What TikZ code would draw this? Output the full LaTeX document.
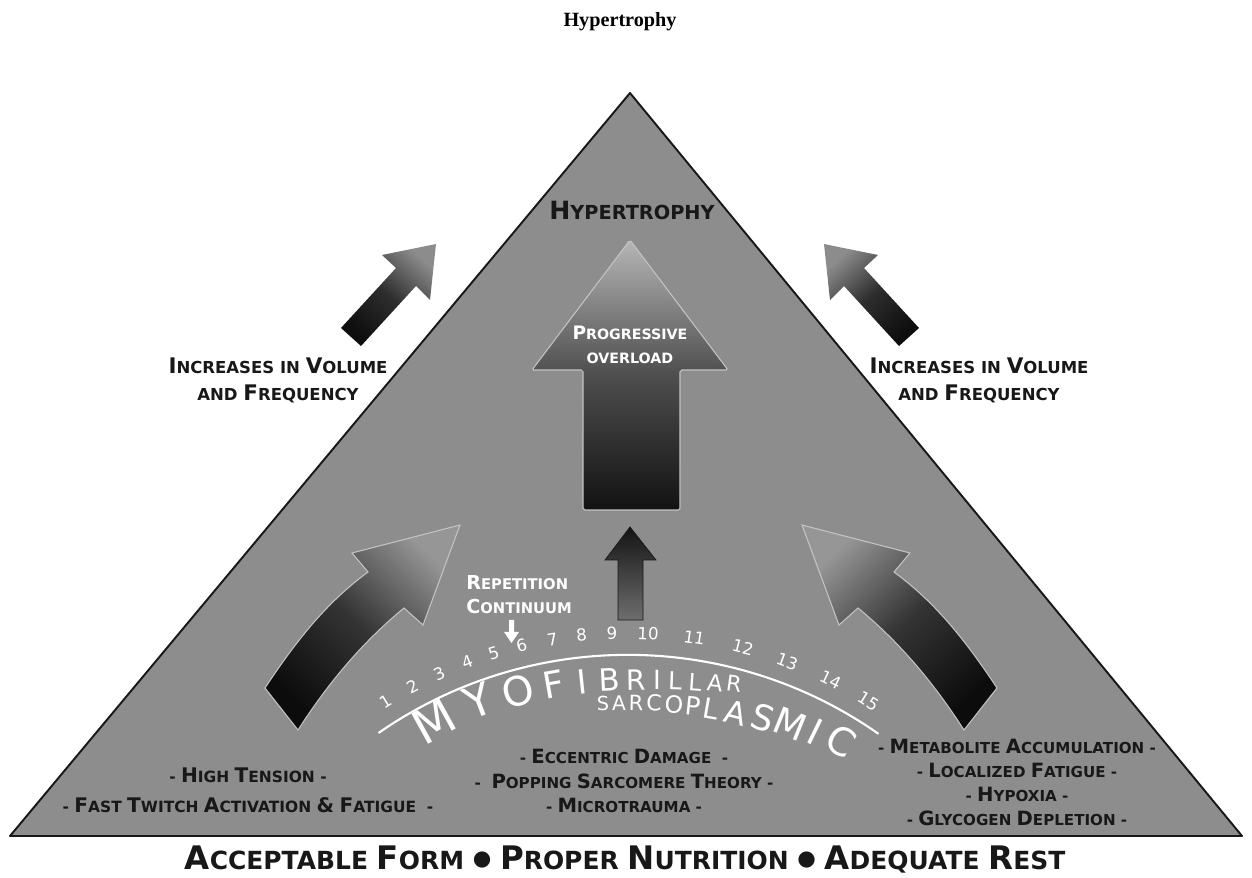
\documentclass[tikz,border=0pt]{standalone}
\usepackage{fontspec}
\usepackage{graphicx}
\setmainfont{DejaVu Sans}
\newfontfamily\titlefont{Liberation Serif}

\definecolor{trigray}{RGB}{141,141,141}
\definecolor{ink}{RGB}{24,24,24}
\definecolor{edgelight}{RGB}{196,196,196}

\newcommand\capl[1]{\scalebox{1.3}{#1}}
\newcommand\fs[2]{\fontsize{#1}{#2}\selectfont}
\newcommand\dotsep{\raisebox{2.2pt}{\scalebox{0.85}{●}}}

\tikzset{
  lab/.style={font=\bfseries\fs{8.6}{13.8}, text=ink, align=center, inner sep=0pt},
  whitelab/.style={lab, text=white},
  repnum/.style={font=\fs{9.5}{10}, text=white, inner sep=0pt},
  arcletter/.style={text=white, inner sep=0pt},
  bevel/.style={draw=edgelight, line width=0.6pt},
}

\begin{document}
\begin{tikzpicture}[x=0.02cm, y=-0.02cm]
            \useasboundingbox (0, 0) rectangle (1252, 878);
            %\draw[lightgray] (0, 0) grid[step=50] (1252, 878);
            \node[font=\titlefont\bfseries\fs{11.5}{14}] (title) at (620, 22) {Hypertrophy};
            % triangle
            \fill[trigray] (630, 93) -- (1242, 836) -- (10, 836) -- cycle;
            \draw[ink, line width=1.1pt, line join=round] (630, 93) -- (1242, 836) -- (10, 836) -- cycle;
            \draw[ink, line width=1.6pt] (10, 836) -- (1242, 836);
            % arrows
            \shade[top color={rgb,255:red,140;green,140;blue,140}, bottom color={rgb,255:red,14;green,14;blue,14}, middle color={rgb,255:red,46;green,46;blue,46}, shading angle=-42]
                (341, 328) -- (396, 268) -- (382, 255) -- (436, 244) -- (430, 300) -- (416, 286) -- (361, 346) -- cycle;
            \shade[top color={rgb,255:red,140;green,140;blue,140}, bottom color={rgb,255:red,14;green,14;blue,14}, middle color={rgb,255:red,46;green,46;blue,46}, shading angle=42]
                (919, 328) -- (864, 268) -- (878, 255) -- (824, 244) -- (830, 300) -- (844, 286) -- (899, 346) -- cycle;
            \shade[bevel, rounded corners=1pt, top color={rgb,255:red,182;green,182;blue,182}, bottom color={rgb,255:red,18;green,18;blue,18}, middle color={rgb,255:red,78;green,78;blue,78}]
                (583, 510) -- (583, 370) -- (532, 370) -- (630, 240) -- (728, 370) -- (680, 370) -- (680, 510) -- cycle;
            \shade[draw=ink, line width=0.4pt, top color={rgb,255:red,20;green,20;blue,20}, bottom color={rgb,255:red,110;green,110;blue,110}]
                (618, 620) -- (618, 560) -- (605, 560) -- (630, 527) -- (656, 560) -- (643, 560) -- (643, 620) -- cycle;
            \shade[bevel, top color={rgb,255:red,150;green,150;blue,150}, bottom color={rgb,255:red,12;green,12;blue,12}, middle color={rgb,255:red,52;green,52;blue,52}, shading angle=-44]
                (265, 688) .. controls (300, 635) and (330, 600) .. (368, 572) -- (352, 553) -- (460, 525) -- (423, 625) -- (404, 608) .. controls (365, 640) and (330, 680) .. (298, 730) -- cycle;
            \shade[bevel, top color={rgb,255:red,150;green,150;blue,150}, bottom color={rgb,255:red,12;green,12;blue,12}, middle color={rgb,255:red,52;green,52;blue,52}, shading angle=44]
                (997, 688) .. controls (962, 635) and (932, 600) .. (894, 572) -- (910, 553) -- (802, 525) -- (839, 625) -- (858, 608) .. controls (897, 640) and (932, 680) .. (964, 730) -- cycle;
            \node[lab, font=\bfseries\fs{11}{14}] (hyper) at (632, 210) {\capl{H}YPERTROPHY};
            \node[whitelab, font=\bfseries\fs{8.1}{13.6}] (prog) at (630, 345) {\capl{P}ROGRESSIVE\\OVERLOAD};
            \node[lab, font=\bfseries\fs{9.4}{15.3}] (incl) at (278, 380) {\capl{I}NCREASES IN \capl{V}OLUME\\AND \capl{F}REQUENCY};
            \node[lab, font=\bfseries\fs{9.4}{15.3}] (incr) at (979, 380) {\capl{I}NCREASES IN \capl{V}OLUME\\AND \capl{F}REQUENCY};
            % repetition continuum
            \node[whitelab, font=\bfseries\fs{8.4}{13.6}, anchor=west, align=left] (rep) at (466, 595) {\capl{R}EPETITION\\\capl{C}ONTINUUM};
            \fill[white] (509, 620) -- (514, 620) -- (514, 632) -- (519, 632) -- (511.5, 643) -- (504, 632) -- (509, 632) -- cycle;
            \draw[white, line width=1.2pt] (378.5, 733) arc[start angle=-124.8, end angle=-55, radius=437];
            \foreach \n/\a in {1/121.8, 2/118, 3/114.3, 4/110.5, 5/107, 6/103.4, 7/99.5, 8/95.8, 9/92, 10/87.5, 11/81.7, 12/75.5, 13/69.7, 14/63.8, 15/58.4}
                \node[repnum, rotate={\a-90}] (num\n) at ({628+459*cos(\a)}, {1092-459*sin(\a)}) {\n};
            \foreach \ch/\x/\y/\s/\r [count=\i] in {M/434/721/27/29, Y/478/701/25/21, O/518/691/23/15, F/554/684/21/10, I/582/682/19/6, B/609/680/17.5/3, R/636/680/16/1, I/657/680/15/0, L/675/681/14/-2, L/695/682/13.5/-4, A/715/683/13/-6, R/734/684/12.5/-8}
                \node[arcletter, font=\fs{\s}{\s}, rotate=\r] (myo\i) at (\x, \y) {\ch};
            \foreach \ch/\x/\y/\s/\r [count=\i] in {S/603/703/11/0, A/619/703/11.5/0, R/636/703/12/-1, C/654/703/12.5/-2, O/674/705/13.5/-4, P/693/706/14.5/-6, L/711/709/16/-10, A/736/713/18/-14, S/763/718/20/-18, M/790/724/21/-22, I/815/732/21/-26, C/841/741/22/-30}
                \node[arcletter, font=\fs{\s}{\s}, rotate=\r] (sarc\i) at (\x, \y) {\ch};
            % causes
            \node[lab, font=\bfseries\fs{8.8}{17}] (tens) at (248, 790) {- \capl{H}IGH \capl{T}ENSION -\\- \capl{F}AST \capl{T}WITCH \capl{A}CTIVATION \capl{\&} \capl{F}ATIGUE \ -};
            \node[lab] (ecc) at (624, 781) {- \capl{E}CCENTRIC \capl{D}AMAGE \ -\\- \ \capl{P}OPPING \capl{S}ARCOMERE \capl{T}HEORY -\\- \capl{M}ICROTRAUMA -};
            \node[lab] (meta) at (1017, 782.5) {- \capl{M}ETABOLITE \capl{A}CCUMULATION -\\- \capl{L}OCALIZED \capl{F}ATIGUE -\\- \capl{H}YPOXIA -\\- \capl{G}LYCOGEN \capl{D}EPLETION -};
            \node[lab, font=\bfseries\fs{14.2}{16}] (basics) at (625, 859) {\capl{A}CCEPTABLE \capl{F}ORM \dotsep{} \capl{P}ROPER \capl{N}UTRITION \dotsep{} \capl{A}DEQUATE \capl{R}EST};
        \end{tikzpicture}
\end{document}
